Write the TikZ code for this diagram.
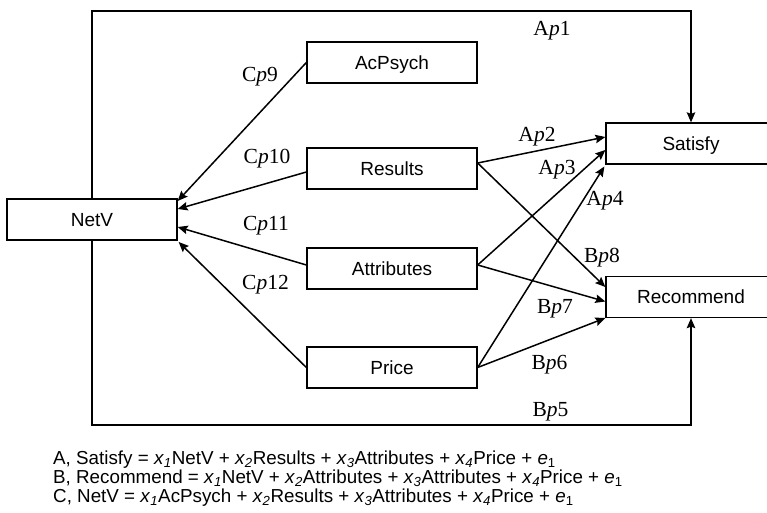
\documentclass[tikz,border=0pt]{standalone}
\usepackage{fontspec}
\setmainfont{Liberation Sans}
\newfontfamily\tnr{Liberation Serif}
\usetikzlibrary{arrows.meta,calc}
\newcommand{\xsub}[1]{\textit{x}\textsubscript{\textit{#1}}}
\newcommand{\esub}{\textit{e}\textsubscript{1}}
\tikzset{
  box/.style={draw, line width=1.3pt, minimum width=170pt, minimum height=41pt,
    inner sep=0pt, font=\fontsize{19}{19}\selectfont, text height=13.6pt, text depth=0pt},
  arr/.style={line width=1.5pt, -{Stealth[length=10pt,width=8.5pt,inset=1.5pt]}},
  lbl/.style={anchor=base, inner sep=0pt, font=\tnr\fontsize{21.5}{22}\selectfont},
  eqn/.style={anchor=base west, inner sep=0pt, text height=13pt, text depth=3pt,
    font=\fontsize{18.8}{19.3}\selectfont},
}
\begin{document}
\begin{tikzpicture}[x=1pt,y=-1pt]
\useasboundingbox (0,0) rectangle (767,513);
\fill[white] (0,0) rectangle (767,513);
\clip (0,0) rectangle (767,513);
% boxes
\node[box] (NetV) at (92,219.5) {NetV};
\node[box] (AcPsych) at (392,62.5) {AcPsych};
\node[box] (Results) at (392,168.5) {Results};
\node[box] (Attributes) at (392,268.5) {Attributes};
\node[box] (Price) at (392,367.5) {Price};
\node[box] (Satisfy) at (691,143.5) {Satisfy};
\node[box] (Recommend) at (691,297) {Recommend};
\coordinate (topline) at (0,11);
\coordinate (botline) at (0,425);
% C paths into NetV
\draw[arr] (AcPsych.west) -- ([yshift=18.5pt]NetV.east);
\draw[arr] ([yshift=-3.5pt]Results.west) -- ([yshift=10.5pt]NetV.east);
\draw[arr] ([yshift=3.5pt]Attributes.west) -- ([yshift=-7.5pt]NetV.east);
\draw[arr] (Price.west) -- ([xshift=1pt,yshift=-22.5pt]NetV.east);
% A and B paths
\draw[arr] ([yshift=5.5pt]Results.east) -- ([yshift=6.5pt]Satisfy.west);
\draw[arr] ([yshift=5.5pt]Results.east) -- ([yshift=10pt]Recommend.west);
\draw[arr] ([yshift=3.5pt]Attributes.east) -- ([yshift=-6.5pt]Satisfy.west);
\draw[arr] ([yshift=3.5pt]Attributes.east) -- ([yshift=-4.5pt]Recommend.west);
\draw[arr] (Price.east) -- ([xshift=-1pt,yshift=-23pt]Satisfy.west);
\draw[arr] (Price.east) -- ([yshift=-21pt]Recommend.west);
% outer paths
\draw[arr] (NetV.north) -- (NetV.north |- topline) -| (Satisfy.north);
\draw[arr] (NetV.south) -- (NetV.south |- botline) -| (Recommend.south);
% labels
\node[lbl] (lA1) at (552,36) {A\textit{p}1};
\node[lbl] (lA2) at (537,142) {A\textit{p}2};
\node[lbl] (lA3) at (557,175) {A\textit{p}3};
\node[lbl] (lA4) at (605,205) {A\textit{p}4};
\node[lbl] (lB8) at (602,262) {B\textit{p}8};
\node[lbl] (lB7) at (555,313) {B\textit{p}7};
\node[lbl] (lB6) at (549.5,369) {B\textit{p}6};
\node[lbl] (lB5) at (550.5,416) {B\textit{p}5};
\node[lbl] (lC9) at (260,82) {C\textit{p}9};
\node[lbl] (lC10) at (267,164) {C\textit{p}10};
\node[lbl] (lC11) at (266,230) {C\textit{p}11};
\node[lbl] (lC12) at (265.5,289) {C\textit{p}12};
% equations
\node[eqn] (eqA) at (53,464) {A, Satisfy = \xsub{1}NetV + \xsub{2}Results + \xsub{3}Attributes + \xsub{4}Price + \esub};
\node[eqn] (eqB) at (53,483.3) {B, Recommend = \xsub{1}NetV + \xsub{2}Attributes + \xsub{3}Attributes + \xsub{4}Price + \esub};
\node[eqn] (eqC) at (53,502.7) {C, NetV = \xsub{1}AcPsych + \xsub{2}Results + \xsub{3}Attributes + \xsub{4}Price + \esub};
\end{tikzpicture}
\end{document}
